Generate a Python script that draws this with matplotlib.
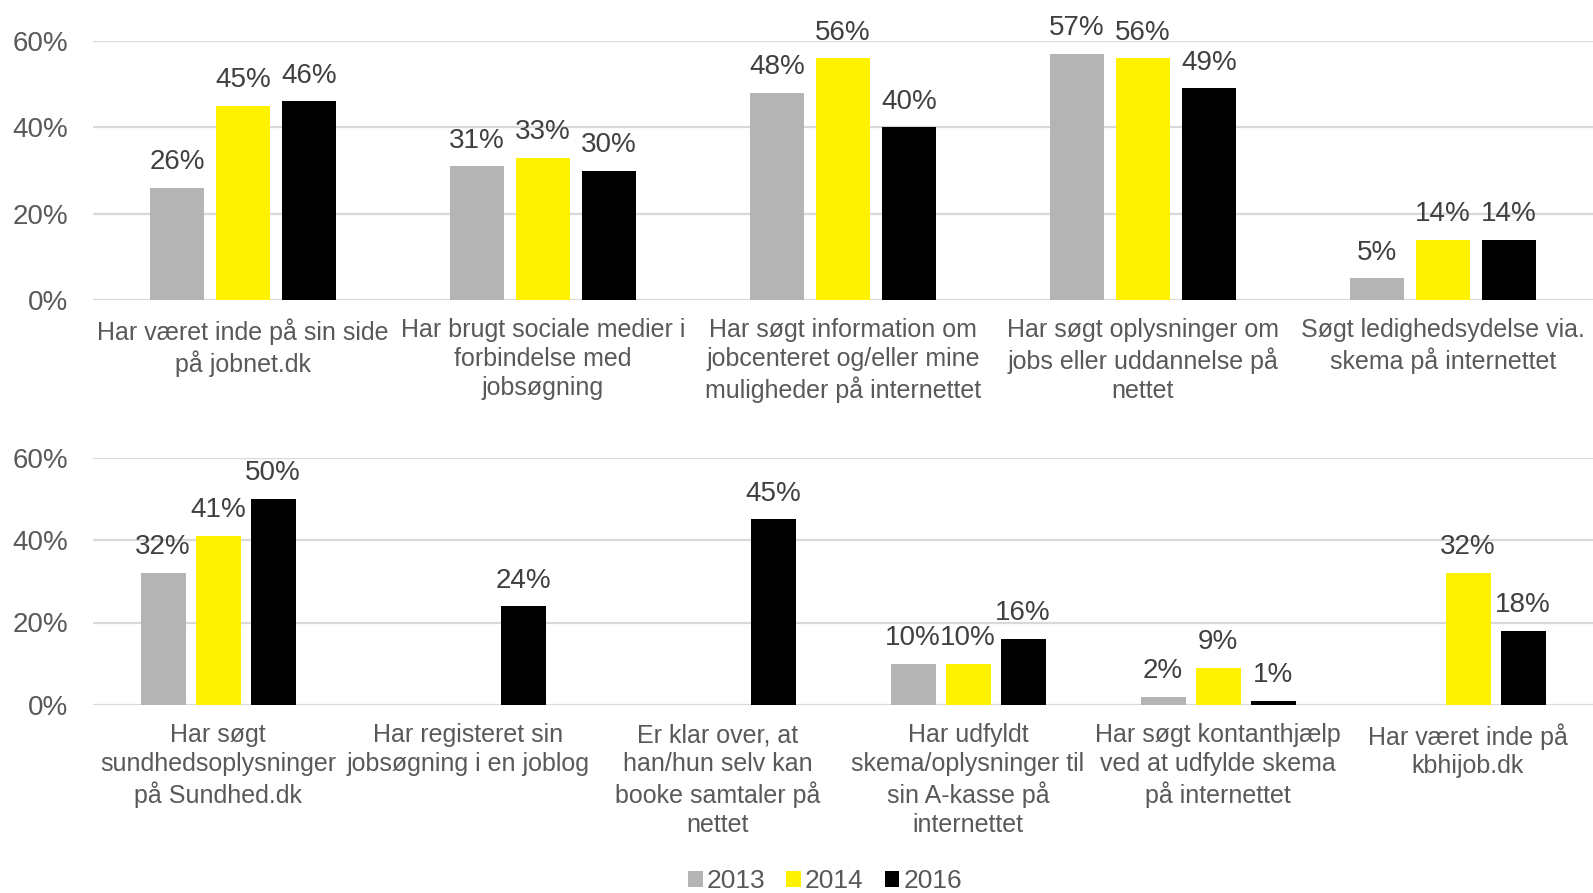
import numpy as np
import matplotlib
matplotlib.use('Agg')
import matplotlib.pyplot as plt
from matplotlib.patches import Patch

plt.rcParams['font.family'] = ['Liberation Sans', 'DejaVu Sans']

# Data: andel af borgere (%) pr. år
years = ['2013', '2014', '2016']
colors = ['#b4b4b4', '#fff200', '#000000']

top_labels = [
    'Har været inde på sin side\npå jobnet.dk',
    'Har brugt sociale medier i\nforbindelse med\njobsøgning',
    'Har søgt information om\njobcenteret og/eller mine\nmuligheder på internettet',
    'Har søgt oplysninger om\njobs eller uddannelse på\nnettet',
    'Søgt ledighedsydelse via.\nskema på internettet',
]
top_2013 = [26, 31, 48, 57, 5]
top_2014 = [45, 33, 56, 56, 14]
top_2016 = [46, 30, 40, 49, 14]

bottom_labels = [
    'Har søgt\nsundhedsoplysninger\npå Sundhed.dk',
    'Har registeret sin\njobsøgning i en joblog',
    'Er klar over, at\nhan/hun selv kan\nbooke samtaler på\nnettet',
    'Har udfyldt\nskema/oplysninger til\nsin A-kasse på\ninternettet',
    'Har søgt kontanthjælp\nved at udfylde skema\npå internettet',
    'Har været inde på\nkbhijob.dk',
]
bottom_2013 = [32, np.nan, np.nan, 10, 2, np.nan]
bottom_2014 = [41, np.nan, np.nan, 10, 9, 32]
bottom_2016 = [50, 24, 45, 16, 1, 18]

W, H = 1593, 893
fig = plt.figure(figsize=(W / 100, H / 100), dpi=100)

ax_top = fig.add_axes([93 / W, 1 - 300 / H, 1 - 93 / W, (300 - 41) / H])
ax_bot = fig.add_axes([93 / W, 1 - 705 / H, 1 - 93 / W, (705 - 457.5) / H])


def draw_panel(ax, labels, series):
    x = np.arange(len(labels))
    width = 0.18
    offsets = [-0.22, 0, 0.22]
    for vals, off, col in zip(series, offsets, colors):
        vals = np.array(vals, dtype=float)
        bars = ax.bar(x + off, vals, width=width, color=col, zorder=3)
        for b, v in zip(bars, vals):
            if np.isnan(v):
                continue
            ax.annotate(f'{v:.0f}%', (b.get_x() + b.get_width() / 2, v),
                        xytext=(0, 9), textcoords='offset points',
                        ha='center', va='bottom', fontsize=20,
                        color='#404040', annotation_clip=False)

    ax.set_xlim(-0.5, len(labels) - 0.5)
    ax.set_ylim(0, 60)
    ax.set_yticks([0, 20, 40, 60])
    ax.set_yticklabels(['0%', '20%', '40%', '60%'])
    ax.set_xticks(x)
    ax.set_xticklabels(labels, fontsize=18, color='#595959', linespacing=1.25)
    ax.tick_params(axis='y', length=0, pad=18, labelsize=20, labelcolor='#595959')
    ax.tick_params(axis='x', length=0, pad=13)
    ax.grid(axis='y', color='#d9d9d9', linewidth=1.6)
    ax.set_axisbelow(True)
    for s in ax.spines.values():
        s.set_visible(False)


draw_panel(ax_top, top_labels, [top_2013, top_2014, top_2016])
draw_panel(ax_bot, bottom_labels, [bottom_2013, bottom_2014, bottom_2016])

handles = [Patch(facecolor=c, edgecolor='none') for c in colors]
fig.legend(handles, years, loc='center', bbox_to_anchor=(825 / W, 1 - 881 / H),
           ncol=3, frameon=False, fontsize=19, labelcolor='#595959',
           handlelength=0.55, handleheight=0.55, handletextpad=0.15,
           columnspacing=0.8)

plt.savefig('out.png', dpi=100)
